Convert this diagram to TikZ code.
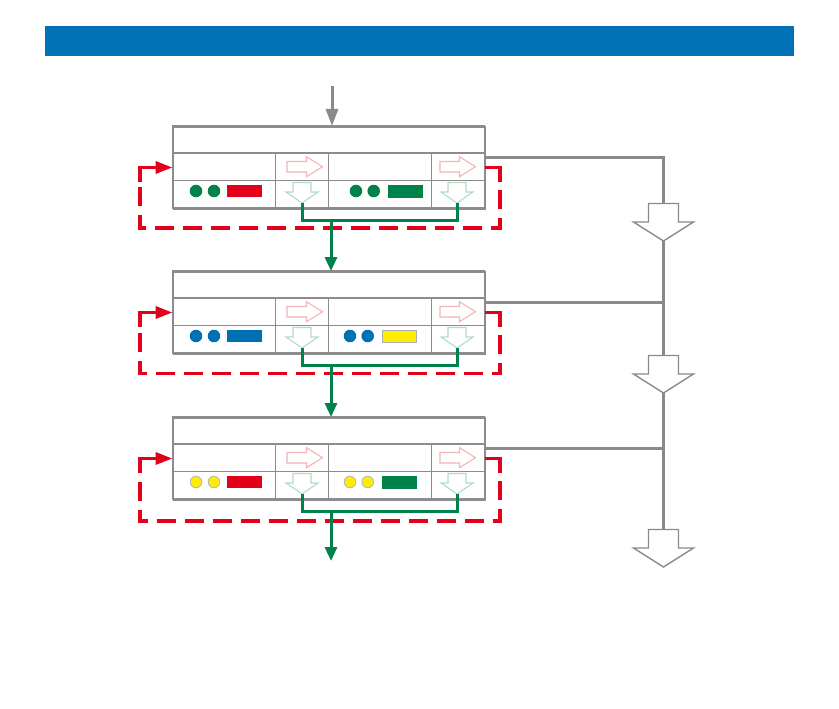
\documentclass[tikz,border=0pt]{standalone}
\usetikzlibrary{arrows.meta}
\definecolor{band}{HTML}{0071B4}
\definecolor{frameg}{HTML}{8C8C8C}
\definecolor{flowg}{HTML}{8A8A8A}
\definecolor{redc}{HTML}{E2001A}
\definecolor{greenc}{HTML}{00824B}
\definecolor{bluec}{HTML}{0070B4}
\definecolor{yellowc}{HTML}{FFED00}
\definecolor{pinkc}{HTML}{F4B4B7}
\definecolor{mintc}{HTML}{B3DCC4}
\tikzset{
  boxnode/.style={draw=frameg, line width=1.8pt, fill=white, minimum width=312pt, minimum height=82pt, inner sep=0pt, anchor=north west},
  inner/.style={draw=frameg, line width=1.1pt},
  pinkarrow/.style={draw=pinkc, line width=1.1pt, fill=white, line join=miter},
  mintarrow/.style={draw=mintc, line width=1.1pt, fill=white, line join=miter},
  greenflow/.style={draw=greenc, line width=3pt},
  greentip/.style={-{Triangle[width=12pt,length=14pt]}},
  redloop/.style={draw=redc, line width=3.4pt},
  reddash/.style={redloop, dash pattern=on 19pt off 9pt, dash phase=19pt},
  grayflow/.style={draw=flowg, line width=3pt},
  bigarrow/.style={draw=flowg, line width=1.4pt, fill=white, line join=miter},
}
\newcommand\stagebox[9]{%
% #1 name, #2 top, #3 dot fill, #4 dot draw, #5 rect1 fill, #6 rect2 fill, #7 rect2 draw, #8 x of second dots, #9 loop bottom
\begin{scope}[shift={(0,#2)}]
  \node[boxnode] (#1) at (172.5,0) {};
  \draw[inner] (172.5,27) -- (484.5,27) (172.5,54.5) -- (484.5,54.5);
  \draw[inner] (275.7,27) -- (275.7,82) (328.7,27) -- (328.7,82) (431.7,27) -- (431.7,82);
  \draw[boxnode, fill=none] (172.5,0) rectangle (484.5,82);
  % pink right arrows
  \foreach \ax in {287,440}{
    \draw[pinkarrow] (\ax,35.5) -- (\ax+19.5,35.5) -- (\ax+19.5,30.7) -- (\ax+35.5,40.7) -- (\ax+19.5,50.7) -- (\ax+19.5,46) -- (\ax,46) -- cycle;}
  % mint down arrows
  \foreach \cx in {302,457}{
    \draw[mintarrow] (\cx-9,56.5) -- (\cx+9,56.5) -- (\cx+9,66) -- (\cx+16,66) -- (\cx,77) -- (\cx-16,66) -- (\cx-9,66) -- cycle;}
  % dots and bars
  \foreach \dx in {196,214}{\filldraw[fill=#3, draw=#4, line width=0.9pt] (\dx,65) circle (5.8pt);}
  \foreach \dx in {#8,#8+17.7}{\filldraw[fill=#3, draw=#4, line width=0.9pt] (\dx,65) circle (5.8pt);}
  \fill[#5] (227,59.3) rectangle (261.5,71);
  \filldraw[fill=#6, draw=#7, line width=1pt] (#8+32,59.3) rectangle (#8+66,71);
  % coordinates
  \coordinate (#1-gl) at (302,77);
  \coordinate (#1-gr) at (457,77);
  \coordinate (#1-gm) at (331,94);
  \coordinate (#1-out) at (484.5,31.5);
  % green collector
  \draw[greenflow] (#1-gl) -- (302,94) -- (457,94) -- (#1-gr);
  % red feedback loop
  \draw[redloop] (484.5,41.5) -- (500,41.5) -- (500,56);
  \draw[reddash] (500,55) -- (500,#9) -- (140,#9) -- (140,55);
  \draw[redloop, -{Triangle[width=12pt,length=17pt]}] (140,56) -- (140,41.5) -- (#1.west |- 0,41.5);
\end{scope}}
\newcommand\bigdown[2]{%
\begin{scope}[shift={(0,#2)}]
  \coordinate (#1-top) at (663.5,0);
  \coordinate (#1-tip) at (663.5,37.5);
  \draw[bigarrow] (648.5,0) -- (678.5,0) -- (678.5,18.5) -- (693.5,18.5) -- (#1-tip) -- (633.5,18.5) -- (648.5,18.5) -- cycle;
\end{scope}}
\begin{document}
\begin{tikzpicture}[x=1pt,y=-1pt]
\useasboundingbox (0,0) rectangle (839,709);
\fill[band] (45,26) rectangle (794,56);
\coordinate (in) at (332,86);
\stagebox{s1}{126}{greenc}{greenc}{redc}{greenc}{greenc}{356}{102}
\stagebox{s2}{271}{bluec}{bluec}{bluec}{yellowc}{frameg!70}{350}{102.5}
\stagebox{s3}{417}{yellowc}{frameg!60}{redc}{greenc}{greenc}{350}{104}
\coordinate (end) at (331,561);
\draw[grayflow, -{Triangle[width=12pt,length=17pt]}] (in) -- (s1.north -| in);
\draw[greenflow, greentip] (s1-gm) -- (s2.north -| s1-gm);
\draw[greenflow, greentip] (s2-gm) -- (s3.north -| s2-gm);
\draw[greenflow, greentip] (s3-gm) -- (end);
\bigdown{b1}{203.5}
\bigdown{b2}{355.5}
\bigdown{b3}{529.5}
\draw[grayflow] (s1-out) -- (s1-out -| b1-top) -- (b1-top);
\draw[grayflow] (s2-out) -- (s2-out -| b1-top);
\draw[grayflow] (s3-out) -- (s3-out -| b1-top);
\draw[grayflow] (b1-tip) -- (b2-top);
\draw[grayflow] (b2-tip) -- (b3-top);
\end{tikzpicture}
\end{document}
